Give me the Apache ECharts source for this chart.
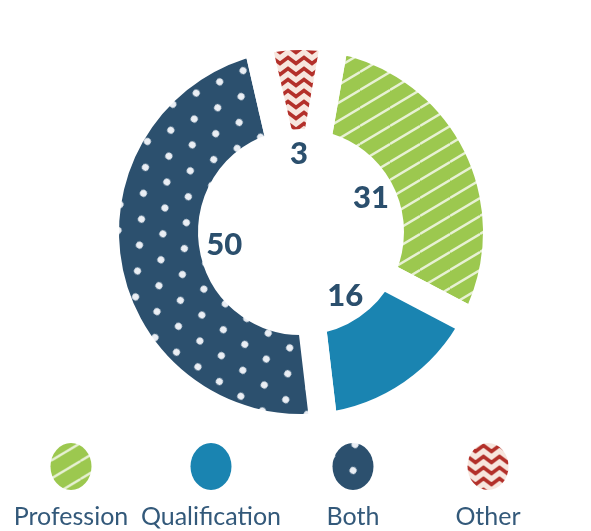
<!DOCTYPE html>
<html>
<head>
<meta charset="utf-8">
<script src="https://cdn.jsdelivr.net/npm/echarts@6/dist/echarts.min.js"></script>
<style>
html,body{margin:0;padding:0;background:#ffffff;}
#chart{width:591px;height:531px;}
</style>
</head>
<body>
<div id="chart"></div>
<script>
// ---- data ----
const categories = ['Profession', 'Qualification', 'Both', 'Other'];
const values = [31, 16, 50, 3];
const valueLabels = ['31', '16', '50', '3'];

// ---- patterns ----
function makeCanvas(w, h) {
  const c = document.createElement('canvas');
  c.width = w; c.height = h;
  return c;
}
function stripePattern() {
  const w = 30, h = 18;
  const c = makeCanvas(w, h), g = c.getContext('2d');
  g.fillStyle = '#9cc84f';
  g.fillRect(0, 0, w, h);
  g.strokeStyle = 'rgba(238,244,222,0.92)';
  g.lineWidth = 2.4;
  for (let k = -1; k <= 1; k++) {
    g.beginPath();
    g.moveTo(0, h + k * h);
    g.lineTo(w, k * h);
    g.stroke();
  }
  return { image: c, repeat: 'repeat' };
}
function dotPattern() {
  const w = 26, h = 45;
  const c = makeCanvas(w, h), g = c.getContext('2d');
  g.fillStyle = '#2c506e';
  g.fillRect(0, 0, w, h);
  g.fillStyle = '#eaeef4';
  [[6.5, 11], [19.5, 33.5]].forEach(function (p) {
    g.beginPath();
    g.arc(p[0], p[1], 3.5, 0, Math.PI * 2);
    g.fill();
  });
  return { image: c, repeat: 'repeat', rotation: 0.6 };
}
function zigzagPattern() {
  const w = 16, h = 11;
  const c = makeCanvas(w, h), g = c.getContext('2d');
  g.fillStyle = '#f7e6de';
  g.fillRect(0, 0, w, h);
  g.strokeStyle = '#b3302a';
  g.lineWidth = 3.6;
  g.lineJoin = 'miter';
  for (let k = -1; k <= 1; k++) {
    g.beginPath();
    g.moveTo(-8, 8.5 + k * h);
    g.lineTo(0, 2.5 + k * h);
    g.lineTo(8, 8.5 + k * h);
    g.lineTo(16, 2.5 + k * h);
    g.lineTo(24, 8.5 + k * h);
    g.stroke();
  }
  return { image: c, repeat: 'repeat' };
}
const fills = [stripePattern(), '#1a84b1', dotPattern(), zigzagPattern()];

const center = [301, 232];
const pieData = categories.map((n, i) => ({
  name: n, value: values[i],
  itemStyle: { color: fills[i] }
}));
const labelData = categories.map((n, i) => ({
  name: n, value: values[i],
  label: { formatter: valueLabels[i] }
}));

// ---- legend (icon above, name centred below) ----
const legendCenters = [71, 211, 353, 488];
const legendFont = 'Lato, "Open Sans", sans-serif';
const legendSize = 25;
const measure = (function () {
  const g = makeCanvas(10, 10).getContext('2d');
  g.font = legendSize + 'px ' + legendFont;
  return (t) => g.measureText(t).width;
})();
const iconW = 41, iconH = 47;
const legends = categories.map((n, i) => ({
  data: [n],
  orient: 'horizontal',
  left: legendCenters[i] - Math.max(iconW / 2, measure(n) / 2),
  top: 443,
  padding: 0,
  itemWidth: iconW,
  itemHeight: iconH,
  itemStyle: { borderWidth: 0 },
  icon: 'path://M0,23.5 A20.5,23.5 0 1,1 41,23.5 A20.5,23.5 0 1,1 0,23.5 Z',
  selectedMode: false,
  formatter: function (name) { return '{n|' + name + '}'; },
  textStyle: {
    rich: {
      n: {
        fontFamily: legendFont,
        fontSize: legendSize,
        color: '#33597a',
        width: 160,
        align: 'center',
        padding: [100, 0, 0, -(iconW + 5 + 80 - iconW / 2)]
      }
    }
  }
}));

const chart = echarts.init(document.getElementById('chart'), null, { renderer: 'canvas' });
chart.setOption({
  animation: false,
  backgroundColor: '#ffffff',
  legend: legends,
  series: [
    {
      type: 'pie',
      center: center,
      radius: [89, 196],
      startAngle: 80,
      minAngle: 23,
      clockwise: true,
      avoidLabelOverlap: false,
      label: { show: false },
      labelLine: { show: false },
      emphasis: { disabled: true },
      itemStyle: { borderColor: '#ffffff', borderWidth: 28, borderJoin: 'round' },
      data: pieData
    },
    {
      type: 'pie',
      center: center,
      radius: [0, 150],
      startAngle: 80,
      minAngle: 23,
      clockwise: true,
      silent: true,
      avoidLabelOverlap: false,
      itemStyle: { color: 'rgba(0,0,0,0)', borderWidth: 0 },
      emphasis: { disabled: true },
      labelLine: { show: false },
      label: {
        show: true,
        position: 'inside',
        color: '#2b4f6d',
        fontFamily: 'Lato, "Open Sans", sans-serif',
        fontWeight: 900,
        fontSize: 31
      },
      data: labelData
    }
  ]
});
</script>
</body>
</html>
